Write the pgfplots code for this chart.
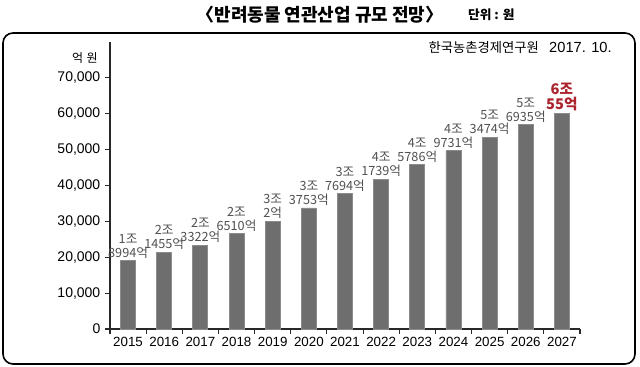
\documentclass[border=0pt]{standalone}
\usepackage{fontspec}
\setmainfont{Liberation Sans}
\newfontfamily\kr{Noto Sans CJK KR}
\usepackage{pgfplots}
\pgfplotsset{compat=1.18}
\definecolor{barfill}{RGB}{110,110,110}
\definecolor{baredge}{RGB}{140,140,140}
\definecolor{labgray}{RGB}{80,80,80}
\definecolor{labred}{RGB}{170,35,45}
\definecolor{axisgray}{RGB}{40,40,40}
\begin{document}
\begin{tikzpicture}
\useasboundingbox (0,0) rectangle (480pt,275.25pt);
\draw[line width=1.2pt, rounded corners=7.5pt] (2.25pt,2.25pt) rectangle (476.25pt,250.5pt);
\node[font=\kr\bfseries\fontsize{13.5pt}{15pt}\selectfont, inner sep=0pt] at (240pt,264pt) {〈반려동물 연관산업 규모 전망〉};
\node[font=\kr\bfseries\fontsize{9.5pt}{11pt}\selectfont, inner sep=0pt] at (368.5pt,264pt) {단위 : 원};
\node[anchor=east, inner sep=0pt, font=\fontsize{11pt}{13pt}\selectfont] at (459pt,239.25pt) {{\kr\fontsize{10pt}{12pt}\selectfont 한국농촌경제연구원}\hspace{0.7em}2017. 10.};
\node[anchor=east, inner sep=0pt, font=\kr\fontsize{9pt}{10pt}\selectfont] at (73.5pt,231.75pt) {억\hspace{0.3em}원};
\begin{axis}[
  at={(82.5pt,28.5pt)}, anchor=south west,
  scale only axis, width=352.5pt, height=215.25pt,
  xmin=-0.5, xmax=12.5, ymin=0, ymax=80000,
  axis lines*=left,
  axis line style={draw=axisgray, line width=0.8pt},
  tick style={draw=axisgray, line width=0.8pt},
  tick align=outside,
  major tick length=3.75pt,
  xtick={-0.5,0.5,...,12.5},
  xticklabels={2015,2016,2017,2018,2019,2020,2021,2022,2023,2024,2025,2026,2027,{}},
  xticklabel style={xshift=13.56pt, font=\fontsize{10pt}{12pt}\selectfont, inner sep=2pt},
  ytick={0,10000,...,70000},
  yticklabel style={font=\fontsize{10.5pt}{12pt}\selectfont},
  scaled y ticks=false,
  /pgf/number format/assume math mode=true,
  /pgf/number format/1000 sep={,},
  clip=false,
]
\addplot[ybar, bar shift=0pt, bar width=11.25pt, fill=barfill, draw=baredge, line width=0.6pt,
  nodes near coords, point meta=explicit symbolic,
  every node near coord/.append style={align=center, anchor=south, inner sep=1.5pt, text=labgray,
    font=\kr\fontsize{9.5pt}{10.5pt}\selectfont}]
coordinates {
(0,18994) [1조\\8994억]
(1,21455) [2조\\1455억]
(2,23322) [2조\\3322억]
(3,26510) [2조\\6510억]
(4,30002) [3조\\2억]
(5,33753) [3조\\3753억]
(6,37694) [3조\\7694억]
(7,41739) [4조\\1739억]
(8,45786) [4조\\5786억]
(9,49731) [4조\\9731억]
(10,53474) [5조\\3474억]
(11,56935) [5조\\6935억]
};
\addplot[ybar, bar shift=0pt, bar width=11.25pt, fill=barfill, draw=baredge, line width=0.6pt,
  nodes near coords, point meta=explicit symbolic,
  every node near coord/.append style={align=center, anchor=south, inner sep=1.5pt, text=labred,
    font=\kr\bfseries\fontsize{11pt}{11.5pt}\selectfont}]
coordinates {
(12,60055) [6조\\55억]
};
\end{axis}
\end{tikzpicture}
\end{document}
